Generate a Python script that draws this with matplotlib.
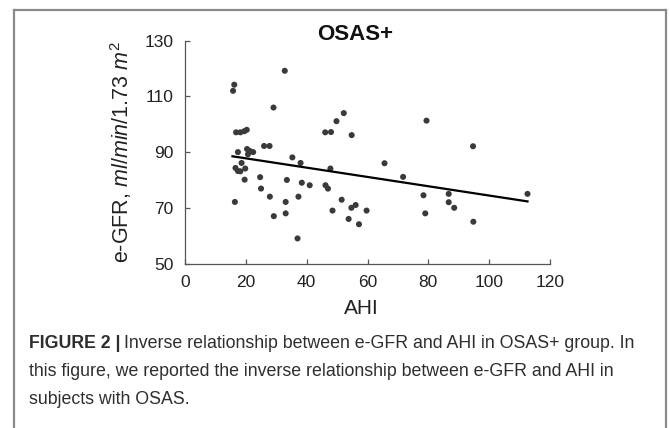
import matplotlib
matplotlib.use("Agg")
import matplotlib.pyplot as plt
from matplotlib.lines import Line2D
import numpy as np

plt.rcParams['font.family'] = ['Liberation Sans', 'DejaVu Sans']
plt.rcParams['mathtext.fontset'] = 'custom'
plt.rcParams['mathtext.rm'] = 'Liberation Sans'
plt.rcParams['mathtext.it'] = 'Liberation Sans:italic'

# Data (AHI vs e-GFR)
ahi = [15.8, 16.2, 32.8, 29.1, 16.8, 18.2, 19.5, 20.3,
       17.4, 20.4, 21.3, 22.4, 20.7, 26.0, 27.8, 18.6,
       16.6, 17.4, 18.2, 19.8, 19.6, 24.7, 25.0, 27.9,
       29.2, 16.4, 33.1, 33.1, 33.5, 35.3, 38.0, 38.4,
       37.3, 37.0, 41.0, 46.1, 48.0, 49.8, 52.2, 54.8,
       47.8, 46.2, 47.0, 48.5, 51.5, 53.8, 54.7, 56.1,
       57.2, 59.7, 65.6, 71.7, 79.4, 78.4, 79.0, 86.7,
       86.7, 88.5, 94.7, 94.8, 112.6]
egfr = [112.0, 114.2, 119.2, 106.0, 97.1, 97.1, 97.5, 98.0,
        90.0, 91.1, 90.4, 90.0, 89.2, 92.2, 92.2, 86.1,
        84.3, 83.2, 83.1, 84.1, 80.1, 81.0, 76.9, 74.0,
        67.0, 72.1, 72.1, 68.0, 80.0, 88.1, 86.1, 79.0,
        74.0, 59.0, 78.1, 97.1, 97.2, 101.1, 104.0, 96.1,
        84.1, 78.1, 76.9, 69.0, 72.9, 66.0, 70.0, 71.0,
        64.1, 69.0, 86.0, 81.1, 101.3, 74.5, 68.0, 75.0,
        72.0, 70.0, 92.1, 65.0, 75.0]

# Regression line
fit_x = [15.6, 112.6]
fit_intercept = 91.1
fit_slope = -0.167

xticks = [0, 20, 40, 60, 80, 100, 120]
yticks = [50, 70, 90, 110, 130]

W, H = 670, 428
fig = plt.figure(figsize=(W / 100, H / 100), dpi=100)
fig.patch.set_facecolor('white')

ax = fig.add_axes([185 / W, 1 - 263.5 / H, 365 / W, (263.5 - 40.7) / H])
ax.scatter(ahi, egfr, s=19, color='#3a3a3a', edgecolors='none', zorder=3)
fx = np.array(fit_x)
ax.plot(fx, fit_intercept + fit_slope * fx, color='black', lw=1.6, zorder=4)

ax.set_xlim(0, 120)
ax.set_ylim(50, 130)
ax.set_xticks(xticks)
ax.set_yticks(yticks)
ax.tick_params(direction='in', length=3.5, width=0.9, color='#555555',
               labelsize=12.5, pad=8.5, labelcolor='#222222')
for s in ['top', 'right']:
    ax.spines[s].set_visible(False)
for s in ['left', 'bottom']:
    ax.spines[s].set_color('#555555')
    ax.spines[s].set_linewidth(0.9)

ax.set_xlabel('AHI', fontsize=15, color='#222222')
ax.xaxis.set_label_coords((361 - 185) / 365, -(308 - 263.5) / (263.5 - 40.7))
ax.xaxis.label.set_va('center')
ax.set_ylabel(r'e-GFR, $\mathit{ml/min/1.73\ m^2}$', fontsize=15.5, color='#222222')
ax.yaxis.set_label_coords(-(185 - 121) / 365, 0.5)
ax.yaxis.label.set_va('center')

fig.text(355 / W, 1 - 34 / H, 'OSAS+', fontsize=16, fontweight='bold',
         ha='center', va='center', color='#111111')

# Figure frame (open at the bottom)
frame_col = '#8a8a8a'
fig.add_artist(Line2D([14 / W, 14 / W], [0, 1 - 10 / H], transform=fig.transFigure,
                      color=frame_col, lw=1.6))
fig.add_artist(Line2D([14 / W, 666 / W], [1 - 10 / H, 1 - 10 / H], transform=fig.transFigure,
                      color=frame_col, lw=1.6))
fig.add_artist(Line2D([666 / W, 666 / W], [0, 1 - 10 / H], transform=fig.transFigure,
                      color=frame_col, lw=1.6))

# Caption
cap_col = '#2e2e2e'
cap_fs = 12.8
cx = 29 / W
line1_y = 1 - 343 / H
t = fig.text(cx, line1_y, 'FIGURE 2 |', fontsize=cap_fs, fontweight='bold',
             ha='left', va='center', color=cap_col)
fig.canvas.draw()
bb = t.get_window_extent()
fig.text((bb.x1 + 4) / W, line1_y,
         'Inverse relationship between e-GFR and AHI in OSAS+ group. In',
         fontsize=cap_fs, ha='left', va='center', color=cap_col)
fig.text(cx, 1 - 371 / H,
         'this figure, we reported the inverse relationship between e-GFR and AHI in',
         fontsize=cap_fs, ha='left', va='center', color=cap_col)
fig.text(cx, 1 - 399 / H, 'subjects with OSAS.',
         fontsize=cap_fs, ha='left', va='center', color=cap_col)

fig.savefig('out.png', dpi=100)
